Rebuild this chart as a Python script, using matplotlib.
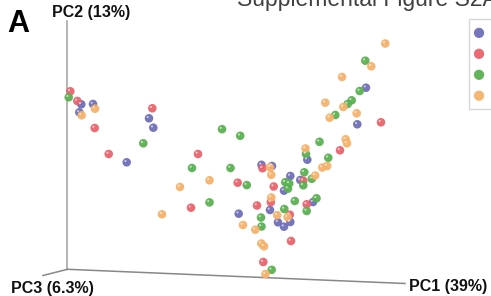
import matplotlib
matplotlib.use('Agg')
import matplotlib.pyplot as plt
import matplotlib.transforms as mtransforms

plt.rcParams['font.family'] = ['Liberation Sans', 'DejaVu Sans']

# projected PCA scores (screen coordinates of the 3D view, y grows downward)
blue_x = [81.3, 93, 79.3, 149, 153.3, 126.7, 238.7, 261.5, 272, 290.3, 300.3, 284, 270, 313,
          278, 290.3, 284, 307.3, 366, 357.3]
blue_y = [104.3, 104, 112.3, 118.3, 127.7, 162.3, 213.7, 164.8, 166, 176, 180, 190.7, 210, 202,
          222.3, 222, 226.7, 159.7, 87.7, 124.3]

red_x = [70.3, 77.3, 94.7, 152.3, 108.7, 198, 237.7, 191, 262.5, 273.7, 303.3, 270.8, 257,
         306.7, 289.8, 291, 263.3, 340, 381]
red_y = [91.3, 101, 128, 108.3, 154, 154, 182.7, 207.7, 168.2, 186.5, 180.8, 202.2, 205.5,
         204.3, 214.7, 241, 262, 150.3, 122.3]

green_x = [68.7, 143.3, 222, 240.2, 192, 230.5, 246.8, 209.5, 306, 328.3, 304.3, 311.8, 285.3,
           289.2, 288, 303.3, 294.8, 316.5, 306.7, 284.3, 261, 261.5, 271.7, 319.5, 365.3,
           359.7, 351.7, 347.7, 335.3]
green_y = [97.3, 143.3, 129.2, 135.8, 168, 168, 185.1, 202.4, 154, 157.8, 172.3, 178.8, 182.2,
           183.5, 188.7, 185.3, 201, 198.3, 211, 209, 217.5, 226.5, 269.8, 141.8, 60.7,
           91, 100.3, 104, 115]

orange_x = [95, 81.7, 209.5, 180, 162, 243, 270, 271.3, 322.3, 327.2, 315.2, 271.3, 277.2,
            287.5, 255.3, 261.3, 264, 265.5, 305.5, 345.7, 347, 385.3, 371.3, 342, 325.3,
            343.3, 356.7, 329.7]
orange_y = [108.7, 115.3, 180.3, 187, 214.3, 225, 167.3, 174.8, 167.5, 166, 175.5, 197.5, 215.2,
            217.2, 229.7, 243.5, 246.3, 274, 148.5, 139.3, 143.3, 43.5, 66.3, 77, 102.7,
            107, 113.3, 117.7]

groups = ['Group 1', 'Group 2', 'Group 3', 'Group 4']
colors = ['#6f6fb8', '#e8636c', '#5cb053', '#f6b26b']

# axis frame of the 3D box: origin, PC2 top, PC1 end, PC3 end
origin = (67.5, 269.3)
pc2_end = (67.5, 21)
pc1_end = (405, 283.5)
pc3_end = (43, 275.5)

fig = plt.figure(figsize=(4.91, 2.96), dpi=100)
ax = fig.add_axes([0, 0, 1, 1])
ax.set_xlim(0, 491)
ax.set_ylim(296, 0)
ax.axis('off')

ax.plot([origin[0], pc2_end[0]], [origin[1], pc2_end[1]], color='#a0a0a0', lw=1.1)
ax.plot([origin[0], pc1_end[0]], [origin[1], pc1_end[1]], color='#888888', lw=1.1)
ax.plot([origin[0], pc3_end[0]], [origin[1], pc3_end[1]], color='#888888', lw=1.1)

shift = mtransforms.ScaledTranslation(-1.3 / 100, 1.3 / 100, fig.dpi_scale_trans)
for xs, ys, c, g in zip([blue_x, red_x, green_x, orange_x],
                        [blue_y, red_y, green_y, orange_y], colors, groups):
    ax.scatter(xs, ys, s=38, color=c, edgecolors='none', alpha=0.95, label=g, zorder=3)
    # little highlight to mimic the shaded spheres
    ax.scatter(xs, ys, s=2.5, color='white', edgecolors='none', alpha=0.6, zorder=4,
               transform=ax.transData + shift)

ax.text(7, 32, 'A', fontsize=22, fontweight='bold', color='black')
ax.text(52, 17, 'PC2 (13%)', fontsize=11.5, fontweight='bold', color='#111111')
ax.text(11, 292.5, 'PC3 (6.3%)', fontsize=11.5, fontweight='bold', color='#111111')
ax.text(409, 291, 'PC1 (39%)', fontsize=11.5, fontweight='bold', color='#111111')
ax.text(237, 6, 'Supplemental Figure S2A', fontsize=16.5, color='#404040')

leg = ax.legend(loc='upper left', bbox_to_anchor=(469.3, 19.3), bbox_transform=ax.transData,
                borderaxespad=0, borderpad=0.45, handlelength=0.5, handletextpad=0.75,
                labelspacing=0.5, fontsize=10, frameon=True, fancybox=False,
                markerscale=1.2)
leg.get_frame().set_edgecolor('#cccccc')
leg.get_frame().set_linewidth(1.0)

fig.savefig('out.png', dpi=100)
